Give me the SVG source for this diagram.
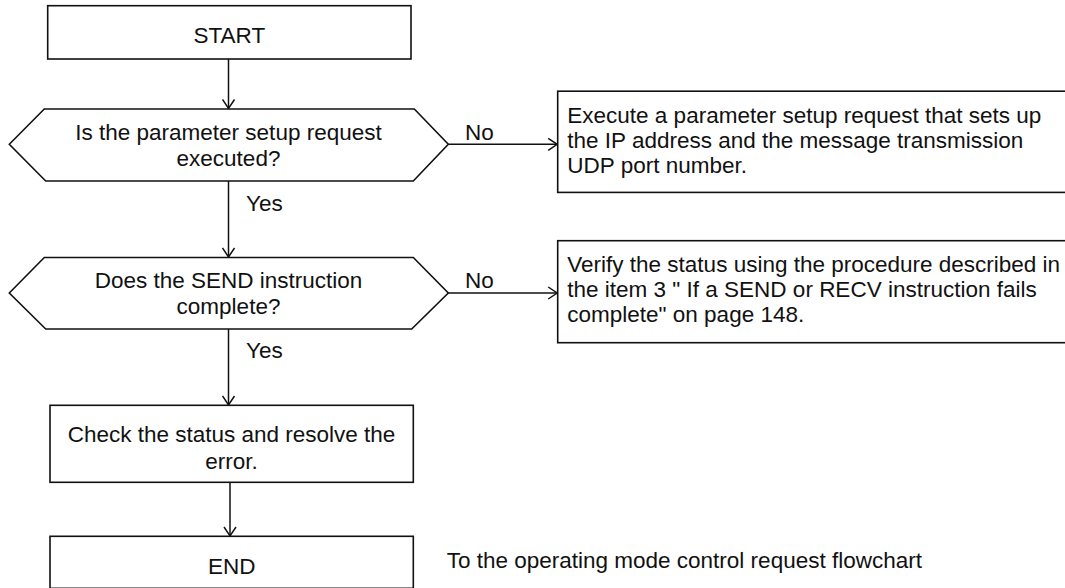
<svg xmlns="http://www.w3.org/2000/svg" width="1065" height="588" viewBox="0 0 1065 588">
<style>
.box{fill:#fff;stroke:#111;stroke-width:1.6}
.t{font-family:"Liberation Sans",Arial,Helvetica,sans-serif;font-size:22.5px;fill:#111}
.c{text-anchor:middle}
.ln{fill:none;stroke:#111;stroke-width:1.5}
</style>
<defs>
<marker id="arr" markerUnits="userSpaceOnUse" markerWidth="14" markerHeight="14" refX="10" refY="7" orient="auto" viewBox="0 0 14 14">
<path d="M1,1 L10,7 L1,13" fill="none" stroke="#111" stroke-width="1.5"/>
</marker>
</defs>
<rect width="1065" height="588" fill="#fff"/>
<g id="connectors">
<line class="ln" x1="228.5" y1="59" x2="228.5" y2="108.5" marker-end="url(#arr)"/>
<line class="ln" x1="228.5" y1="181" x2="228.5" y2="257" marker-end="url(#arr)"/>
<line class="ln" x1="228.5" y1="329" x2="228.5" y2="405" marker-end="url(#arr)"/>
<line class="ln" x1="230" y1="482.3" x2="230" y2="536" marker-end="url(#arr)"/>
<line class="ln" x1="448.3" y1="144.3" x2="557.2" y2="144.3" marker-end="url(#arr)"/>
<line class="ln" x1="448.3" y1="293" x2="557.2" y2="293" marker-end="url(#arr)"/>
<text class="t" x="465" y="139.5">No</text>
<text class="t" x="465" y="287.5">No</text>
<text class="t" x="246" y="210.5">Yes</text>
<text class="t" x="246" y="358.3">Yes</text>
</g>
<g id="start">
<rect class="box" x="47.7" y="5.7" width="363.3" height="53.3"/>
<text class="t c" x="229.3" y="43">START</text>
</g>
<g id="decision1">
<path class="box" d="M9.3,144.3 L44.3,109 L414.3,109 L448.3,144.3 L413.3,181 L45.7,181 Z"/>
<text class="t c" x="228.5" y="139.5">Is the parameter setup request</text>
<text class="t c" x="228.5" y="166">executed?</text>
</g>
<g id="setup">
<rect class="box" x="557.7" y="91.2" width="530" height="101.2"/>
<text class="t" x="567.3" y="122.8">Execute a parameter setup request that sets up</text>
<text class="t" x="567.3" y="147.8">the IP address and the message transmission</text>
<text class="t" x="567.3" y="172.8">UDP port number.</text>
</g>
<g id="decision2">
<path class="box" d="M9.3,293 L44.3,257.5 L413.3,257.5 L448.3,293 L411.7,329 L45.7,329 Z"/>
<text class="t c" x="228.5" y="288.3">Does the SEND instruction</text>
<text class="t c" x="228.5" y="314">complete?</text>
</g>
<g id="verify">
<rect class="box" x="557.7" y="240.7" width="530" height="102"/>
<text class="t" x="567.3" y="272.2">Verify the status using the procedure described in</text>
<text class="t" x="567.3" y="297.2">the item 3 " If a SEND or RECV instruction fails</text>
<text class="t" x="567.3" y="322.2">complete" on page 148.</text>
</g>
<g id="check">
<rect class="box" x="50" y="405.3" width="363.3" height="77"/>
<text class="t c" x="231.5" y="442">Check the status and resolve the</text>
<text class="t c" x="231.5" y="468.5">error.</text>
</g>
<g id="end">
<rect class="box" x="50" y="536.3" width="363.3" height="52"/>
<text class="t c" x="231.7" y="574">END</text>
</g>
<g id="note">
<text class="t" x="446.7" y="568">To the operating mode control request flowchart</text>
</g>
</svg>
